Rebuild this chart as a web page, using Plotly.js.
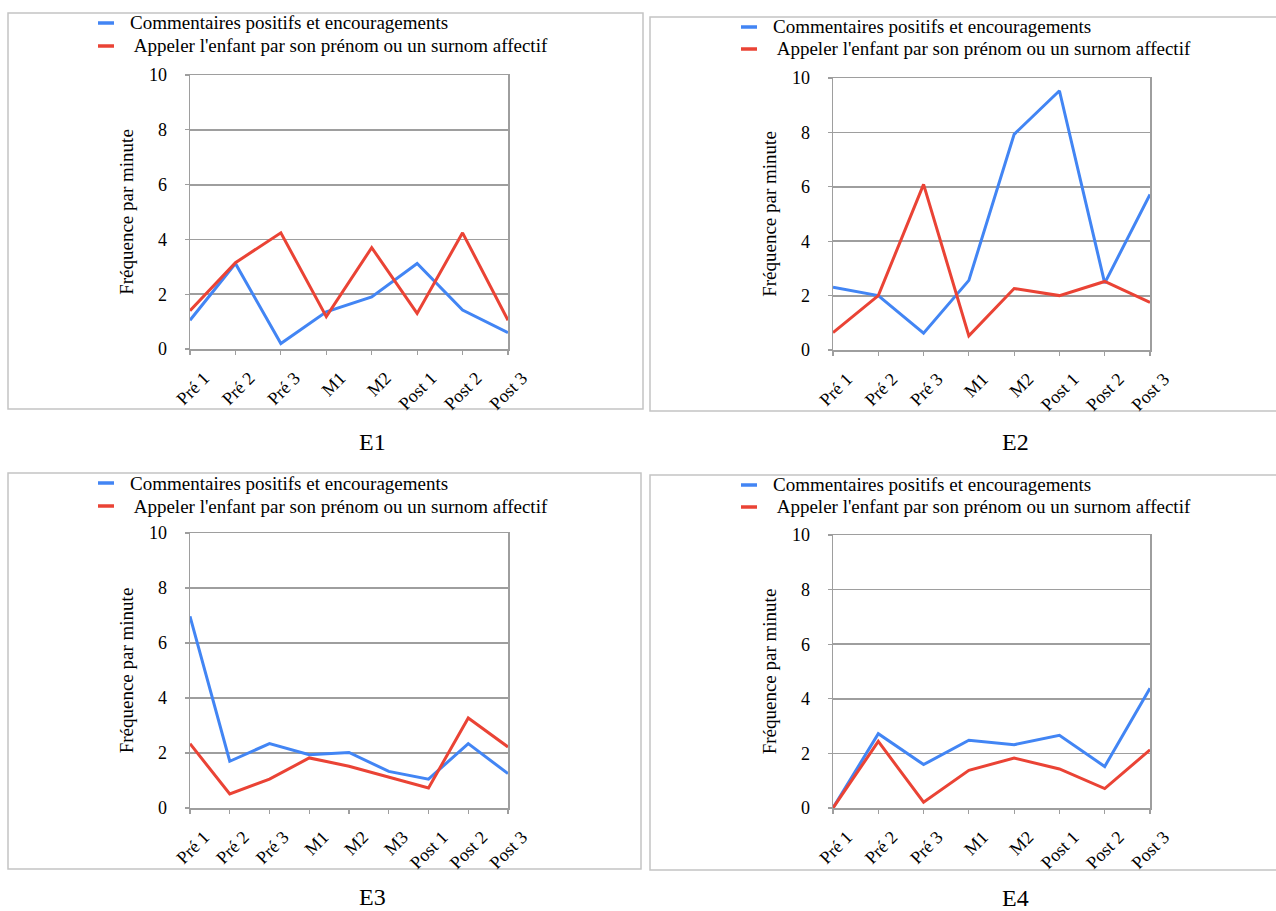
<!DOCTYPE html>
<html>
<head>
<meta charset="utf-8">
<script src="https://cdn.plot.ly/plotly-3.0.1.min.js"></script>
<style>html,body{margin:0;padding:0;background:#fff;}#chart{width:1276px;height:911px;}</style>
</head>
<body>
<div id="chart"></div>
<script>
// ---- data ----
const categoriesE1 = ['Pré 1','Pré 2','Pré 3','M1','M2','Post 1','Post 2','Post 3'];
const categoriesE2 = ['Pré 1','Pré 2','Pré 3','M1','M2','Post 1','Post 2','Post 3'];
const categoriesE3 = ['Pré 1','Pré 2','Pré 3','M1','M2','M3','Post 1','Post 2','Post 3'];
const categoriesE4 = ['Pré 1','Pré 2','Pré 3','M1','M2','Post 1','Post 2','Post 3'];

const seriesNames = ['Commentaires positifs et encouragements', "Appeler l'enfant par son prénom ou un surnom affectif"];

const e1Commentaires = [1.05, 3.12, 0.2, 1.36, 1.9, 3.12, 1.42, 0.6];
const e1Prenom       = [1.4, 3.15, 4.24, 1.18, 3.7, 1.3, 4.24, 1.05];

const e2Commentaires = [2.31, 2.0, 0.62, 2.56, 7.93, 9.53, 2.46, 5.72];
const e2Prenom       = [0.64, 2.0, 6.09, 0.52, 2.26, 2.0, 2.52, 1.75];

const e3Commentaires = [6.97, 1.7, 2.34, 1.94, 2.02, 1.33, 1.05, 2.34, 1.25];
const e3Prenom       = [2.34, 0.51, 1.05, 1.82, 1.52, 1.13, 0.73, 3.27, 2.22];

const e4Commentaires = [0, 2.72, 1.59, 2.48, 2.32, 2.66, 1.52, 4.39];
const e4Prenom       = [0, 2.44, 0.21, 1.38, 1.83, 1.43, 0.71, 2.13];

const panelLabels = ['E1','E2','E3','E4'];
const yTitle = 'Fréquence par minute';
const yTicks = [0, 2, 4, 6, 8, 10];

// ---- styling / layout ----
const W = 1276, H = 911;
const FONT = 'Times New Roman, Liberation Serif, serif';
const BLUE = '#4285f4';
const RED = '#ea4335';
const GRID = '#9e9e9e';
const px = x => x / W;
const py = y => 1 - y / H;

const panels = [
  {cats: categoriesE1, a: e1Commentaires, b: e1Prenom, x0: 190, x1: 508, yTop: 75, yBot: 349,
   box: [8, 13, 643, 409], leg: {sx: 98, tx: 128, y1: 23, y2: 46}, cap: {x: 372, y: 442}},
  {cats: categoriesE2, a: e2Commentaires, b: e2Prenom, x0: 833, x1: 1150, yTop: 78, yBot: 350,
   box: [650, 17, 1285, 411], leg: {sx: 741, tx: 771, y1: 27, y2: 49}, cap: {x: 1015, y: 442}},
  {cats: categoriesE3, a: e3Commentaires, b: e3Prenom, x0: 190, x1: 508, yTop: 533, yBot: 808,
   box: [8, 473, 641, 869], leg: {sx: 98, tx: 128, y1: 483, y2: 506}, cap: {x: 372, y: 897}},
  {cats: categoriesE4, a: e4Commentaires, b: e4Prenom, x0: 833, x1: 1150, yTop: 535, yBot: 808,
   box: [650, 475, 1285, 870], leg: {sx: 741, tx: 771, y1: 485, y2: 507}, cap: {x: 1015, y: 898}}
];

const data = [];
const layout = {
  width: W, height: H,
  margin: {l: 0, r: 0, t: 0, b: 0},
  paper_bgcolor: '#ffffff', plot_bgcolor: '#ffffff',
  showlegend: false,
  font: {family: FONT, color: '#000', size: 16},
  shapes: [], annotations: []
};

panels.forEach((p, i) => {
  const k = i === 0 ? '' : String(i + 1);
  const xref = 'x' + k, yref = 'y' + k;
  data.push({x: p.cats, y: p.a, type: 'scatter', mode: 'lines', name: seriesNames[0],
             line: {color: BLUE, width: 3}, xaxis: xref, yaxis: yref});
  data.push({x: p.cats, y: p.b, type: 'scatter', mode: 'lines', name: seriesNames[1],
             line: {color: RED, width: 3}, xaxis: xref, yaxis: yref});

  layout['xaxis' + k] = {
    domain: [px(p.x0), px(p.x1)], anchor: yref, type: 'category',
    categoryorder: 'array', categoryarray: p.cats,
    range: [0, p.cats.length - 1],
    showgrid: false, zeroline: false,
    showline: true, linecolor: GRID, linewidth: 1.5, mirror: true,
    ticks: 'outside', ticklen: 4, tickcolor: GRID, tickwidth: 1.2,
    tickangle: -45, ticklabelshift: 14, ticklabelstandoff: 6,
    tickfont: {family: FONT, size: 18, color: '#000'},
    fixedrange: true
  };
  layout['yaxis' + k] = {
    domain: [py(p.yBot), py(p.yTop)], anchor: xref,
    range: [0, 10], tickvals: yTicks, ticktext: yTicks.map(String),
    showgrid: true, gridcolor: GRID, gridwidth: 1.8, zeroline: false,
    showline: true, linecolor: GRID, linewidth: 1.5, mirror: true,
    ticks: 'outside', ticklen: 4, tickcolor: GRID, tickwidth: 1.2,
    ticklabelstandoff: 14,
    tickfont: {family: FONT, size: 18, color: '#000'},
    title: {text: yTitle, font: {family: FONT, size: 19, color: '#000'}, standoff: 10},
    fixedrange: true
  };

  // panel frame
  layout.shapes.push({type: 'rect', xref: 'paper', yref: 'paper',
    x0: px(p.box[0]), x1: px(p.box[2]), y0: py(p.box[3]), y1: py(p.box[1]),
    line: {color: '#c4c4c4', width: 1.5}, fillcolor: 'rgba(0,0,0,0)', layer: 'below'});

  // legend swatches + labels
  [[p.leg.y1, BLUE, seriesNames[0]], [p.leg.y2, RED, ' ' + seriesNames[1]]].forEach(([yy, col, txt]) => {
    layout.shapes.push({type: 'line', xref: 'paper', yref: 'paper',
      x0: px(p.leg.sx), x1: px(p.leg.sx + 16), y0: py(yy), y1: py(yy),
      line: {color: col, width: 3.5}});
    layout.annotations.push({xref: 'paper', yref: 'paper', x: px(p.leg.tx), y: py(yy),
      xanchor: 'left', yanchor: 'middle', showarrow: false, text: txt,
      font: {family: FONT, size: 19, color: '#000'}});
  });

  // caption
  layout.annotations.push({xref: 'paper', yref: 'paper', x: px(p.cap.x), y: py(p.cap.y),
    xanchor: 'center', yanchor: 'middle', showarrow: false, text: panelLabels[i],
    font: {family: FONT, size: 24, color: '#000'}});
});

Plotly.newPlot('chart', data, layout, {staticPlot: true, displayModeBar: false});
</script>
</body>
</html>
